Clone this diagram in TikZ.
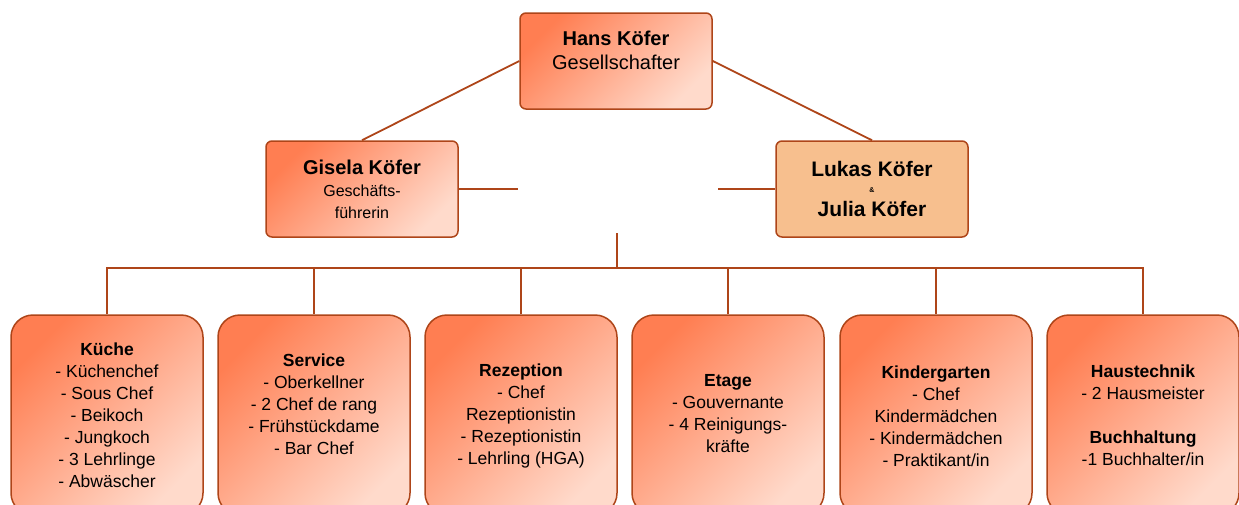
\documentclass[tikz,border=0pt]{standalone}
\usepackage{fontspec}
\setmainfont{Liberation Sans}

\definecolor{boxdark}{HTML}{FF7E52}
\definecolor{boxlight}{HTML}{FFDACB}
\definecolor{boxedge}{HTML}{AE4519}
\definecolor{peach}{HTML}{F7BF8E}

\tikzset{
  chef/.style={rectangle, rounded corners=6pt, draw=boxedge, line width=1.5pt,
    top color=boxdark, bottom color=boxlight, shading angle=45,
    minimum width=192pt, minimum height=96pt, inner sep=0pt, align=center},
  dept/.style={rectangle, rounded corners=22pt, draw=boxedge, line width=1.5pt,
    top color=boxdark, bottom color=boxlight, shading angle=45,
    minimum width=192pt, minimum height=200pt},
  depttext/.style={align=center, font=\fontsize{17.5}{22}\selectfont},
  link/.style={draw=boxedge, line width=1.8pt}
}

\begin{document}
\begin{tikzpicture}[x=1pt, y=-1pt]
\useasboundingbox (0,0) rectangle (1239,504);

% owner and management
\node[chef] (hans) at (616,61) {};
\node[align=center, font=\fontsize{20}{24}\selectfont] (hanstext) at (616,50)
  {\textbf{Hans Köfer}\\Gesellschafter};
\node[chef, font=\fontsize{16}{22}\selectfont] (gisela) at (362,189)
  {{\fontsize{20}{24}\selectfont\textbf{Gisela Köfer}}\\Geschäfts-\\führerin};
\node[chef, top color=peach, bottom color=peach,
  font=\fontsize{21}{20}\selectfont\bfseries] (lukas) at (872,189)
  {Lukas Köfer\\\raisebox{4pt}{\fontsize{7}{8}\selectfont\&}\\Julia Köfer};

\coordinate (gleft) at (518,189);
\coordinate (gright) at (718,189);
\coordinate (stem) at (617,233);
\coordinate (bar) at (617,268);

\draw[link] (hans.west) -- (gisela.north);
\draw[link] (hans.east) -- (lukas.north);
\draw[link] (gisela.east) -- (gleft);
\draw[link] (gright) -- (lukas.west);
\draw[link] (stem) -- (bar);

% departments
\node[dept] (kueche) at (107,415) {};
\node[dept] (service) at (314,415) {};
\node[dept] (rezeption) at (521,415) {};
\node[dept] (etage) at (728,415) {};
\node[dept] (kinder) at (936,415) {};
\node[dept] (haus) at (1143,415) {};

\foreach \d in {kueche, service, rezeption, etage, kinder, haus}
  \draw[link] (\d.north) |- (bar);

\node[depttext] (kuechetext) at (107,415.5)
  {\textbf{Küche}\\- Küchenchef\\- Sous Chef\\- Beikoch\\- Jungkoch\\- 3 Lehrlinge\\- Abwäscher};
\node[depttext] (servicetext) at (314,404.5)
  {\textbf{Service}\\- Oberkellner\\- 2 Chef de rang\\- Frühstückdame\\- Bar Chef};
\node[depttext] (rezeptiontext) at (521,416)
  {\textbf{Rezeption}\\- Chef\\Rezeptionistin\\- Rezeptionistin\\- Lehrling (HGA)};
\node[depttext] (etagetext) at (728,413.5)
  {\textbf{Etage}\\- Gouvernante\\- 4 Reinigungs-\\kräfte};
\node[depttext] (kindertext) at (936,416)
  {\textbf{Kindergarten}\\- Chef\\Kindermädchen\\- Kindermädchen\\- Praktikant/in};
\node[depttext] (haustext) at (1143,415.5)
  {\textbf{Haustechnik}\\- 2 Hausmeister\\[22pt]\textbf{Buchhaltung}\\-1 Buchhalter/in};
\end{tikzpicture}
\end{document}
